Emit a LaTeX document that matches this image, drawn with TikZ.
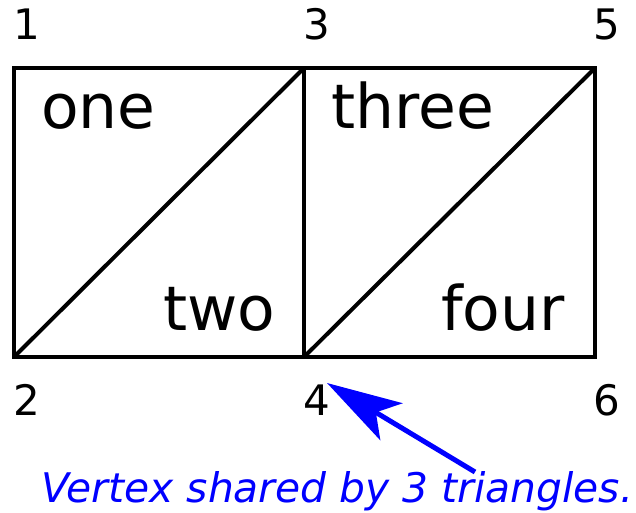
\documentclass[tikz,border=0pt]{standalone}
\usepackage{fontspec}
\setmainfont{DejaVu Sans}
\usetikzlibrary{arrows.meta}
\begin{document}
\begin{tikzpicture}[x=1pt,y=-1pt,
  edge/.style={line width=4pt},
  vlabel/.style={anchor=base west,inner sep=0pt,font=\fontsize{42}{42}\selectfont},
  tlabel/.style={anchor=base west,inner sep=0pt,font=\fontsize{61.5}{61.5}\selectfont},
  note/.style={anchor=base west,inner sep=0pt,text=blue,font=\fontsize{40.8}{40.8}\selectfont\itshape}]
\useasboundingbox (0,0) rectangle (636,512);
\coordinate (v1) at (14,68);
\coordinate (v3) at (304,68);
\coordinate (v5) at (595,68);
\coordinate (v2) at (14,357);
\coordinate (v4) at (304,357);
\coordinate (v6) at (595,357);
\draw[edge] (v1) -- (v5) -- (v6) -- (v2) -- cycle;
\draw[edge] (v3) -- (v4);
\draw[edge] (v2) -- (v3);
\draw[edge] (v4) -- (v5);
\node[vlabel] (l1) at (13,39) {1};
\node[vlabel] (l3) at (303,39) {3};
\node[vlabel] (l5) at (593,39) {5};
\node[vlabel] (l2) at (13,415) {2};
\node[vlabel] (l4) at (303,415) {4};
\node[vlabel] (l6) at (593,415) {6};
\node[tlabel] (one) at (41,128) {one};
\node[tlabel] (three) at (331,128) {three};
\node[tlabel] (two) at (163,330) {two};
\node[tlabel] (four) at (441,330) {four};
\node[note] (txt) at (41,502) {Vertex shared by 3 triangles.};
\coordinate (tip) at (327,383);
\coordinate (tail) at (475,472);
\draw[blue,line width=5pt,-{Stealth[length=75pt,width=43pt,inset=18pt]}] (tail) -- (tip);
\end{tikzpicture}
\end{document}
